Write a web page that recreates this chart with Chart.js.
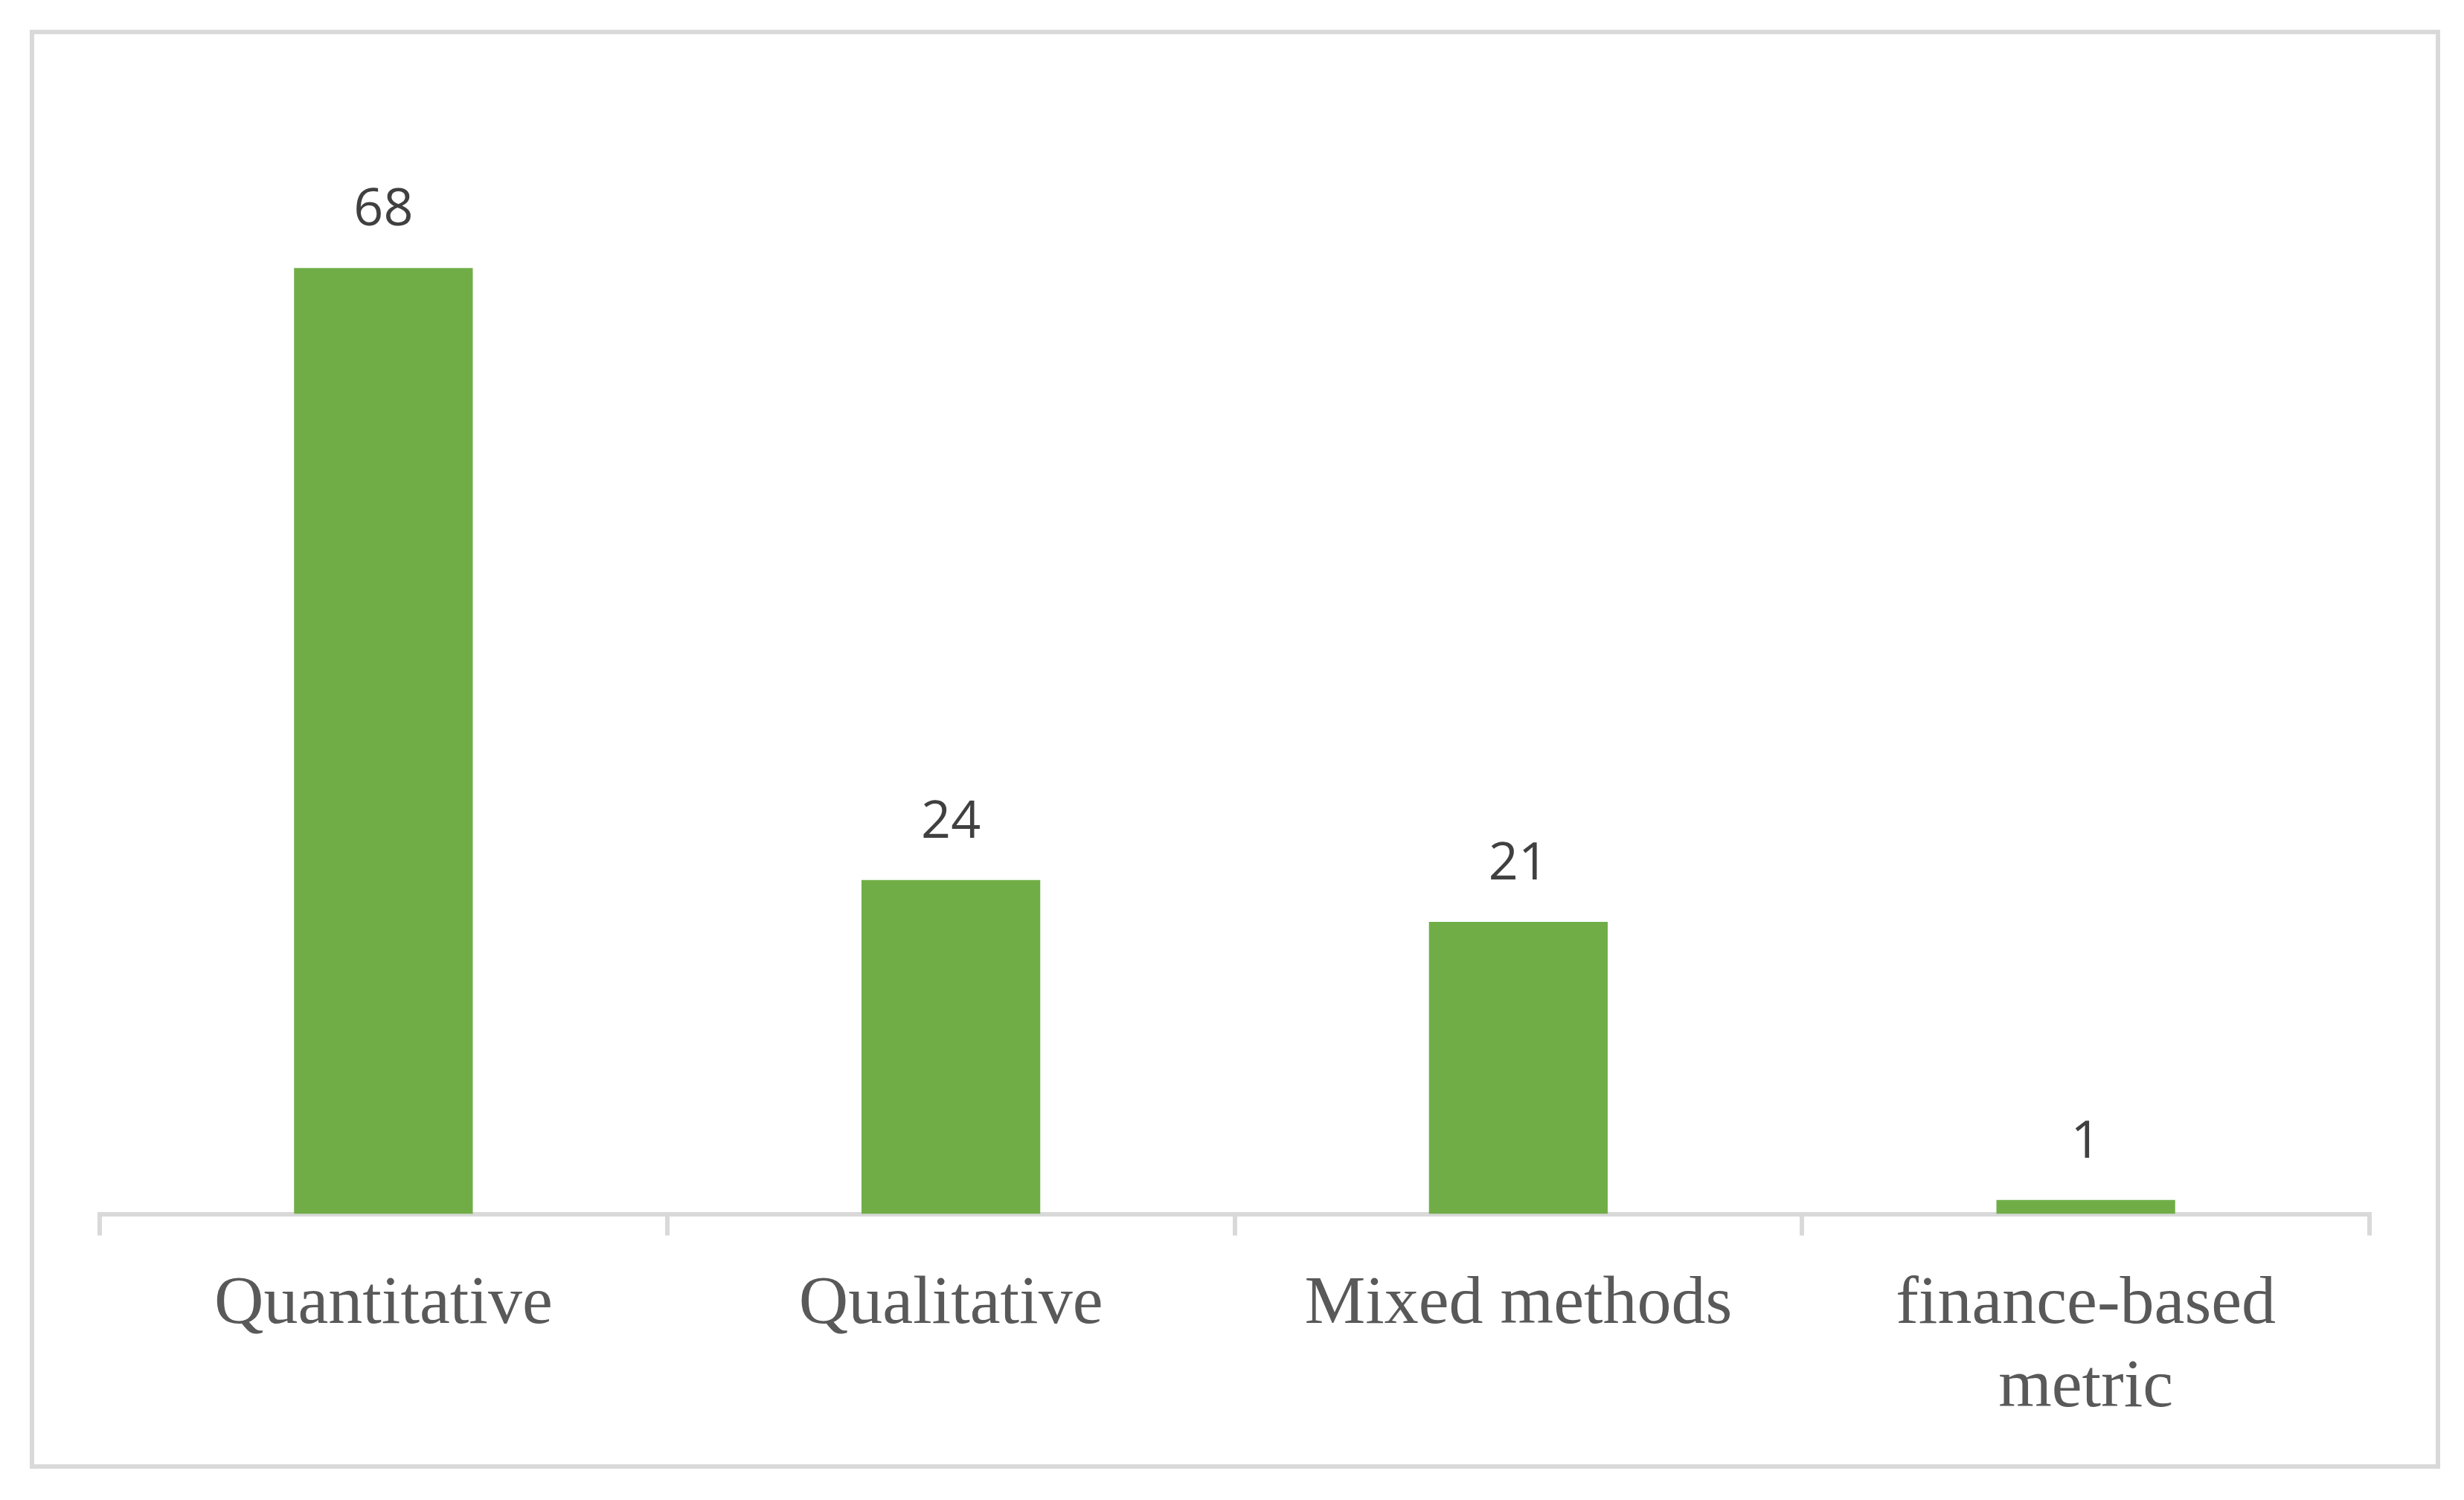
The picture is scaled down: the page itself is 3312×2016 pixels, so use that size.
<!DOCTYPE html>
<html>
<head>
<meta charset="utf-8">
<script src="https://cdn.jsdelivr.net/npm/chart.js@4.4.0/dist/chart.umd.min.js"></script>
<style>
  html, body { margin: 0; padding: 0; background: #ffffff; }
  #wrap { position: relative; width: 3312px; height: 2016px; }
  #frame { position: absolute; left: 40px; top: 40px; width: 3240px; height: 1934px;
           box-sizing: border-box; border: 6px solid #d9d9d9; pointer-events: none; }
  canvas { position: absolute; left: 0; top: 0; }
</style>
</head>
<body>
<div id="wrap">
  <canvas id="c" width="3312" height="2016"></canvas>
  <div id="frame"></div>
</div>
<script>
const categories = [["Quantitative"], ["Qualitative"], ["Mixed methods"], ["finance-based", "metric"]];
const counts = [68, 24, 21, 1];
const barColor = "#70AD47";

const valueLabels = {
  id: "valueLabels",
  afterDatasetsDraw(chart) {
    const ctx = chart.ctx;
    const meta = chart.getDatasetMeta(0);
    ctx.save();
    ctx.font = "70px 'Open Sans'";
    ctx.fillStyle = "#404040";
    ctx.textAlign = "center";
    ctx.textBaseline = "alphabetic";
    meta.data.forEach((bar, i) => {
      ctx.fillText(String(counts[i]), bar.x, bar.y - 57);
    });
    ctx.restore();
  }
};

new Chart(document.getElementById("c"), {
  type: "bar",
  data: {
    labels: categories,
    datasets: [{
      data: counts,
      backgroundColor: barColor,
      borderWidth: 0,
      categoryPercentage: 1.0,
      barPercentage: 0.315
    }]
  },
  options: {
    responsive: false,
    devicePixelRatio: 1,
    animation: false,
    layout: { padding: { left: 134, right: 127, top: 136, bottom: 57 } },
    plugins: { legend: { display: false }, tooltip: { enabled: false } },
    scales: {
      y: { display: false, min: 0, max: 80 },
      x: {
        grid: { drawOnChartArea: false, drawTicks: true, tickLength: 29, color: "#d9d9d9", lineWidth: 6, offset: true },
        border: { display: true, color: "#d9d9d9", width: 6 },
        ticks: {
          color: "#595959",
          padding: 37,
          maxRotation: 0,
          autoSkip: false,
          font: { family: "'Liberation Serif'", size: 92, lineHeight: 1.22 }
        }
      }
    }
  },
  plugins: [valueLabels]
});
</script>
</body>
</html>
